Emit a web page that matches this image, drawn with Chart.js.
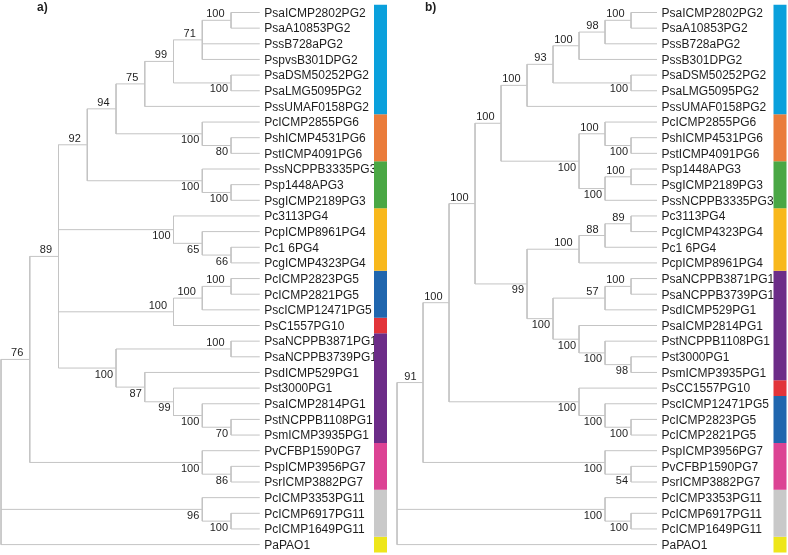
<!DOCTYPE html>
<html><head><meta charset="utf-8">
<script src="https://cdn.jsdelivr.net/npm/chart.js@4.4.1/dist/chart.umd.min.js"></script>
<style>html,body{margin:0;padding:0;background:#fff;overflow:hidden}canvas{display:block}</style>
</head><body>
<canvas id="c" width="788" height="555"></canvas>
<script>
// ---- DATA ----
const leavesA = ["PsaICMP2802PG2","PsaA10853PG2","PssB728aPG2","PspvsB301DPG2","PsaDSM50252PG2","PsaLMG5095PG2","PssUMAF0158PG2","PcICMP2855PG6","PshICMP4531PG6","PstICMP4091PG6","PssNCPPB3335PG3","Psp1448APG3","PsgICMP2189PG3","Pc3113PG4","PcpICMP8961PG4","Pc1 6PG4","PcgICMP4323PG4","PcICMP2823PG5","PcICMP2821PG5","PscICMP12471PG5","PsC1557PG10","PsaNCPPB3871PG1","PsaNCPPB3739PG1","PsdICMP529PG1","Pst3000PG1","PsaICMP2814PG1","PstNCPPB1108PG1","PsmICMP3935PG1","PvCFBP1590PG7","PspICMP3956PG7","PsrICMP3882PG7","PcICMP3353PG11","PcICMP6917PG11","PcICMP1649PG11","PaPAO1"];
const leavesB = ["PsaICMP2802PG2","PsaA10853PG2","PssB728aPG2","PssB301DPG2","PsaDSM50252PG2","PsaLMG5095PG2","PssUMAF0158PG2","PcICMP2855PG6","PshICMP4531PG6","PstICMP4091PG6","Psp1448APG3","PsgICMP2189PG3","PssNCPPB3335PG3","Pc3113PG4","PcgICMP4323PG4","Pc1 6PG4","PcpICMP8961PG4","PsaNCPPB3871PG1","PsaNCPPB3739PG1","PsdICMP529PG1","PsaICMP2814PG1","PstNCPPB1108PG1","Pst3000PG1","PsmICMP3935PG1","PsCC1557PG10","PscICMP12471PG5","PcICMP2823PG5","PcICMP2821PG5","PspICMP3956PG7","PvCFBP1590PG7","PsrICMP3882PG7","PcICMP3353PG11","PcICMP6917PG11","PcICMP1649PG11","PaPAO1"];
// topology with bootstrap values (numbers = 1-based leaf index)
const newickA = "(((((((((1,2)100,3,4)71,(5,6)100)99,7)75,(8,(9,10)80)100)94,(11,(12,13)100)100)92,(14,(15,(16,17)66)65)100,(((18,19)100,20)100,21)100,((22,23)100,(24,(25,(26,(27,28)70)100)99)87)100)89,(29,(30,31)86)100)76,(32,(33,34)100)96,35)";
const newickB = "((((((((((1,2)100,3)98,4)100,(5,6)100)93,7)100,((8,(9,10)100)100,((11,12)100,13)100)100)100,((((14,15)89,16)88,17)100,(((18,19)100,20)57,(21,(22,(23,24)98)100)100)100)99)100,(25,(26,(27,28)100)100)100)100,(29,(30,31)54)100)91,(32,(33,34)100)100,35)";
const panelTitles = ["a)", "b)"];

// ---- STYLE ----
const groupColors = {PG2:'#0aa0dc', PG6:'#ea7c3b', PG3:'#4aa744', PG4:'#f8b81c', PG5:'#2066ae', PG10:'#e2343a', PG1:'#6c2c88', PG7:'#dc4394', PG11:'#c9c9c9', out:'#eee61a'};
const LINE = '#c4c4c4';
const panels = [
  {axis:'xa', leaves:leavesA, newick:newickA, title:panelTitles[0], tipPx:259.75, stepPx:28.75, barPx:380.5, titlePx:37, aboveOverride:['17-20']},
  {axis:'xb', leaves:leavesB, newick:newickB, title:panelTitles[1], tipPx:657, stepPx:26, barPx:780, titlePx:425, aboveOverride:[]}
];
const ROW0 = 12.5, ROWH = 15.65, W = 788, H = 555;

function parseNewick(s) {
  let i = 0;
  function node() {
    if (s[i] === '(') {
      i++;
      const children = [node()];
      while (s[i] === ',') { i++; children.push(node()); }
      i++;
      let lab = '';
      while (i < s.length && /[0-9]/.test(s[i])) lab += s[i++];
      return {children, label: lab};
    }
    let num = '';
    while (i < s.length && /[0-9]/.test(s[i])) num += s[i++];
    return {leaf: +num - 1};
  }
  return node();
}
function layout(n) {
  if (n.children) {
    n.children.forEach(layout);
    n.level = Math.max(...n.children.map(c => c.level)) + 1;
    n.y = (n.children[0].y + n.children[n.children.length - 1].y) / 2;
    n.lo = Math.min(...n.children.map(c => c.lo));
    n.hi = Math.max(...n.children.map(c => c.hi));
  } else { n.level = 0; n.y = n.leaf; n.lo = n.hi = n.leaf; }
}
function collect(n, segs, labels, isFirst, isRoot, over) {
  if (!n.children) return;
  const x = -n.level;
  segs.push({x, y: n.children[0].y}, {x, y: n.children[n.children.length - 1].y}, {x: null, y: null});
  n.children.forEach((c, k) => {
    segs.push({x, y: c.y}, {x: -c.level, y: c.y}, {x: null, y: null});
    collect(c, segs, labels, k === 0, false, over);
  });
  if (!isRoot && n.label) labels.push({x, y: n.y, text: n.label, above: isFirst || over.includes(n.lo + '-' + n.hi)});
}
function groupOf(name) { const m = name.match(/(PG\d+)$/); return m ? m[1] : 'out'; }
function rng(px0, k, size) { const min = -px0 / k; return {min, max: min + size / k}; }

const datasets = [];
const scales = {
  x: {type:'linear', display:false},
  y: {type:'linear', display:false, reverse:true, ...rng(ROW0, ROWH, H)}
};
panels.forEach(p => {
  const root = parseNewick(p.newick);
  layout(root);
  const segs = [], labels = [];
  collect(root, segs, labels, true, true, p.aboveOverride);
  p.labels = labels;
  scales[p.axis] = {type:'linear', display:false, ...rng(p.tipPx, p.stepPx, W)};
  datasets.push({data: segs, xAxisID: p.axis, yAxisID: 'y', showLine: true, spanGaps: false,
    borderColor: LINE, borderWidth: 1, pointRadius: 0, pointHoverRadius: 0, fill: false});
  // group colour bars from contiguous runs
  const barX = (p.barPx - p.tipPx) / p.stepPx;
  let start = 0;
  for (let i = 1; i <= p.leaves.length; i++) {
    if (i === p.leaves.length || groupOf(p.leaves[i]) !== groupOf(p.leaves[start])) {
      datasets.push({data: [{x: barX, y: start - 0.5}, {x: barX, y: i - 1 + 0.5}], xAxisID: p.axis, yAxisID: 'y',
        showLine: true, borderColor: groupColors[groupOf(p.leaves[start])], borderWidth: 13, borderCapStyle: 'butt',
        pointRadius: 0, pointHoverRadius: 0, fill: false});
      start = i;
    }
  }
});

const textPlugin = {
  id: 'treeText',
  beforeDatasetsDraw(chart) {
    const ctx = chart.ctx, ys = chart.scales.y;
    panels.forEach(p => {
      const xs = chart.scales[p.axis];
      ctx.save();
      ctx.fillStyle = '#1e1e1e';
      ctx.font = '12px "Liberation Sans", Arial, sans-serif';
      ctx.textBaseline = 'middle'; ctx.textAlign = 'left';
      const tip = xs.getPixelForValue(0);
      p.leaves.forEach((name, i) => ctx.fillText(name, tip + 4.5, ys.getPixelForValue(i) + 1));
      ctx.font = '11px "Liberation Sans", Arial, sans-serif';
      ctx.textAlign = 'right';
      p.labels.forEach(l => {
        const px = xs.getPixelForValue(l.x), py = ys.getPixelForValue(l.y);
        ctx.fillText(l.text, px - (l.above ? 6.5 : 3), py + (l.above ? -6 : 6.5));
      });
      ctx.font = 'bold 12px "Liberation Sans", Arial, sans-serif';
      ctx.textAlign = 'left';
      ctx.fillText(p.title, p.titlePx, 7.5);
      ctx.restore();
    });
  }
};

new Chart(document.getElementById('c'), {
  type: 'scatter',
  data: {datasets},
  options: {
    responsive: false, animation: false, devicePixelRatio: 1,
    layout: {padding: 0},
    plugins: {legend: {display: false}, tooltip: {enabled: false}, title: {display: false}},
    events: [],
    scales
  },
  plugins: [textPlugin]
});
</script>
</body></html>
